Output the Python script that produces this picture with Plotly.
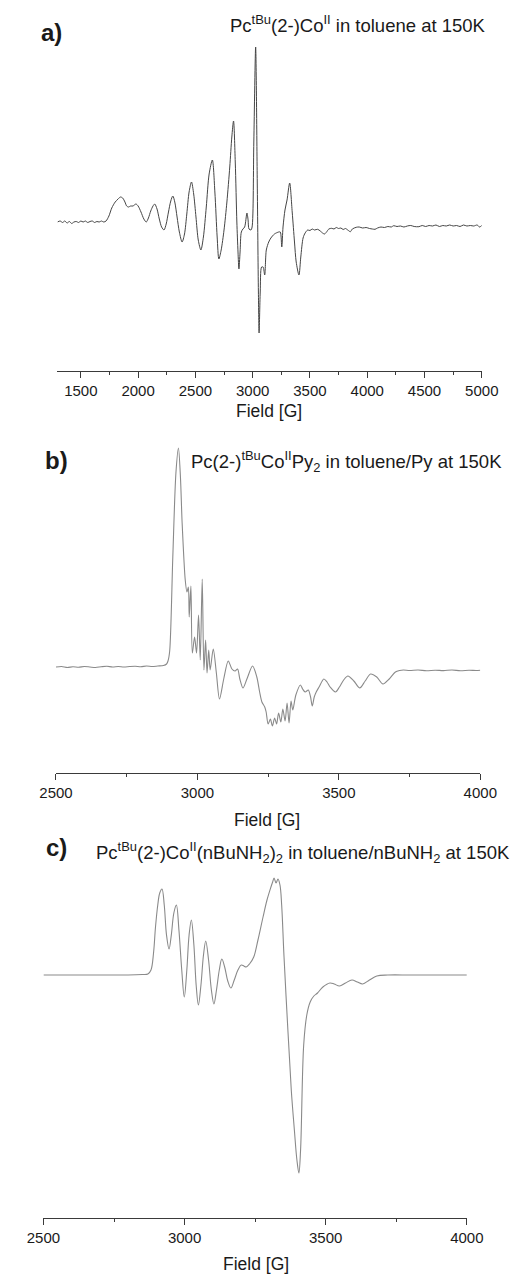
import plotly.graph_objects as go

W, H = 520, 1276

# ---------------- Panel a: Pc(tBu)(2-)Co(II) in toluene, 150 K ----------------
field_a = [1296, 1320, 1340, 1360, 1380, 1400, 1420, 1440, 1460, 1480, 1500, 1520, 1540, 1560,
           1580, 1600, 1620, 1640, 1660, 1680, 1700, 1720, 1745, 1770, 1800, 1825, 1846, 1865,
           1885, 1900, 1916, 1935, 1955, 1981, 2000, 2025, 2050, 2071, 2090, 2110, 2130, 2145,
           2165, 2185, 2205, 2226, 2245, 2265, 2285, 2303, 2320, 2340, 2360, 2384, 2405, 2425,
           2445, 2466, 2485, 2505, 2525, 2548, 2570, 2595, 2620, 2648, 2670, 2690, 2705, 2725,
           2750, 2775, 2800, 2818, 2833, 2848, 2862, 2872, 2880, 2890, 2901, 2915, 2930, 2950,
           2960, 2968, 2985, 2995, 3010, 3026, 3040, 3050, 3056, 3066, 3078, 3091, 3105, 3119,
           3140, 3159, 3190, 3227, 3241, 3254, 3265, 3282, 3300, 3323, 3345, 3365, 3380, 3404,
           3420, 3440, 3458, 3480, 3500, 3520, 3540, 3567, 3590, 3610, 3627, 3645, 3665, 3690,
           3710, 3730, 3750, 3770, 3790, 3810, 3830, 3853, 3870, 3904, 3930, 3960, 3990, 4020,
           4045, 4068, 4090, 4120, 4150, 4180, 4210, 4231, 4260, 4290, 4320, 4350, 4380, 4410,
           4451, 4480, 4510, 4540, 4570, 4600, 4630, 4660, 4690, 4720, 4750, 4780, 4810, 4840,
           4870, 4900, 4930, 4960, 4980, 5000]
int_a = [0, 1, -0.5, 1, -1, 0.5, -1.5, 0, 0.5, -0.5, 1, 0, 1, -0.5,
         0.5, 1, -0.5, 0.5, 0, 1, 0, 1, 6, 14, 20, 23, 25, 24,
         20, 16, 15, 16, 16, 18, 16, 10, 3, 0, 4, 11, 16, 18,
         13, 3, -5, -8, -2, 10, 21, 26, 20, 5, -10, -20, -12, 8,
         30, 40, 28, 5, -18, -28, -15, 15, 48, 62, 30, -15, -37, -28,
         -8, 20, 55, 85, 101, 60, 0, -30, -47, -30, -10, -7, -5, 9,
         2, -7, -8, -5, 80, 175, 40, -70, -111, -70, -45, -45, -53, -28,
         -20, -16, -12, -10, -10, -25, -5, 12, 22, 39, 10, -20, -40, -53,
         -35, -16, -11, -8, -8.5, -7, -8, -7.3, -9, -11, -12, -10, -7, -6.3,
         -7, -5.5, -6.5, -6, -7.5, -6.5, -8, -9.7, -7, -5.3, -5, -6, -5.5, -6.5,
         -7, -7.3, -6, -5, -5.5, -4.5, -5, -3.7, -4.5, -4, -5, -4, -3.5, -4.5,
         -4.7, -3.5, -4.5, -3.5, -4, -3, -4.5, -3.5, -4, -3, -4, -3.5, -4.5, -3,
         -4, -3.5, -4, -3, -5, -3.5]
ticks_a = [1500, 2000, 2500, 3000, 3500, 4000, 4500, 5000]

# ---------------- Panel b: Pc(2-)tBuCo(II)Py2 in toluene/Py, 150 K ----------------
field_b = [2500, 2520, 2540, 2560, 2580, 2600, 2620, 2640, 2660, 2680, 2700, 2720, 2740, 2760,
           2780, 2800, 2820, 2840, 2860, 2880, 2891, 2896, 2902, 2913, 2924, 2933, 2940, 2946,
           2957, 2963, 2968, 2971, 2977, 2982, 2990, 2997, 3004, 3010, 3017, 3023, 3029, 3034,
           3040, 3045, 3056, 3067, 3078, 3093, 3109, 3122, 3133, 3142, 3150, 3161, 3175, 3195,
           3210, 3220, 3228, 3238, 3243, 3250, 3258, 3265, 3273, 3280, 3287, 3295, 3302, 3310,
           3317, 3324, 3331, 3337, 3348, 3364, 3372, 3381, 3392, 3400, 3406, 3413, 3420, 3430,
           3447, 3458, 3469, 3488, 3502, 3517, 3532, 3553, 3574, 3593, 3612, 3634, 3656, 3678,
           3700, 3715, 3728, 3750, 3780, 3810, 3840, 3870, 3900, 3930, 3960, 3985, 4000]
int_b = [0, 0.5, -0.5, 0.3, -0.3, 0.5, 0, -0.5, 0.3, 0.8, 0, 0.5, 0, 0.5,
         0.8, 0.3, 1, 0.5, 1, 1.5, 3, 6, 16, 110, 194, 219, 190, 144,
         87, 75, 80, 50, 81, 14, 30, 14, 52, 7, 88, -3, 27, -6,
         17, -3, 18, -6, -32, -12, 6, -2, -4, -2, -12, -21, -12, 1,
         -10, -25, -35, -40, -45, -57, -52, -59, -51, -57, -46, -55, -42, -54,
         -36, -56, -34, -43, -28, -18, -22, -25, -23, -30, -39, -30, -25, -20,
         -12, -15, -20, -25, -20, -13, -9, -14, -21, -14, -7, -10, -17, -12,
         -5, -3.5, -3, -3.5, -3, -3.8, -3.2, -3.6, -3, -3.8, -3.2, -3.5, -3.3]
ticks_bc = [2500, 3000, 3500, 4000]

# ---------------- Panel c: Pc(tBu)(2-)Co(II)(nBuNH2)2 in toluene/nBuNH2, 150 K ----------------
field_c = [2500, 2600, 2700, 2800, 2850, 2870, 2881, 2890, 2897, 2905, 2912, 2920, 2928, 2936,
           2945, 2953, 2962, 2971, 2980, 2990, 2999, 3008, 3016, 3024, 3033, 3041, 3049, 3058,
           3067, 3075, 3085, 3095, 3104, 3113, 3123, 3132, 3142, 3153, 3164, 3176, 3189, 3201,
           3210, 3218, 3230, 3245, 3260, 3278, 3292, 3306, 3312, 3317, 3324, 3331, 3338, 3344,
           3352, 3366, 3378, 3389, 3398, 3405, 3411, 3422, 3433, 3445, 3458, 3471, 3490, 3515,
           3530, 3549, 3570, 3593, 3612, 3631, 3655, 3681, 3720, 3800, 3900, 4000]
int_c = [0, 0, 0, 0, 0.5, 1, 5, 22, 48, 70, 82, 86, 70, 40,
         26, 40, 62, 70, 45, 5, -22, 5, 40, 55, 30, -10, -30, -10,
         20, 34, 15, -15, -29, -15, 5, 16, 8, -6, -13, -5, 5, 10,
         9, 8, 11, 18, 35, 58, 75, 88, 93, 97, 92, 96, 90, 70,
         20, -55, -115, -155, -185, -198, -175, -70, -40, -27, -21, -18, -12, -8,
         -9, -11, -8, -5, -7, -9, -5, -1, 0, 0, 0, 0]

FONT = "Arial, Liberation Sans, Helvetica, sans-serif"
TXT = "#1a1a1a"
AX = "#3a3a3a"

fig = go.Figure()
fig.add_trace(go.Scatter(x=field_a, y=int_a, xaxis="x", yaxis="y", mode="lines",
                         line=dict(color="#454545", width=1, shape="spline", smoothing=0.8),
                         hoverinfo="skip"))
fig.add_trace(go.Scatter(x=field_b, y=int_b, xaxis="x2", yaxis="y2", mode="lines",
                         line=dict(color="#8a8a8a", width=1.1, shape="spline", smoothing=0.8),
                         hoverinfo="skip"))
fig.add_trace(go.Scatter(x=field_c, y=int_c, xaxis="x3", yaxis="y3", mode="lines",
                         line=dict(color="#8a8a8a", width=1.1, shape="spline", smoothing=1.0),
                         hoverinfo="skip"))


def fx(px):
    return px / W


def fy(py):
    return 1 - py / H


def xaxis_cfg(x0, x1, rng, ticks, anchor):
    return dict(domain=[fx(x0), fx(x1)], range=rng, anchor=anchor,
                showline=True, linecolor=AX, linewidth=1.3, showgrid=False, zeroline=False,
                ticks="outside", ticklen=6, tickwidth=1.3, tickcolor=AX,
                tickmode="array", tickvals=ticks, ticktext=[str(t) for t in ticks],
                tickfont=dict(family=FONT, size=15, color=TXT),
                minor=dict(ticks="outside", ticklen=3, tickwidth=1.2, tickcolor=AX, dtick=250, tick0=2500),
                fixedrange=True)


def yaxis_cfg(top, bottom, rng, anchor):
    return dict(domain=[fy(bottom), fy(top)], range=rng, anchor=anchor, visible=False,
                showgrid=False, zeroline=False, fixedrange=True)


fig.update_layout(
    width=W, height=H, margin=dict(l=0, r=0, t=0, b=0),
    paper_bgcolor="white", plot_bgcolor="white", showlegend=False,
    xaxis=xaxis_cfg(43.3, 497.3, [1296, 5000], ticks_a, "y"),
    yaxis=yaxis_cfg(40, 371, [-149, 182], "x"),
    xaxis2=xaxis_cfg(41.7, 495.7, [2500, 4000], ticks_bc, "y2"),
    yaxis2=yaxis_cfg(440, 773, [-106, 227], "x2"),
    xaxis3=xaxis_cfg(28.3, 481.3, [2500, 4000], ticks_bc, "y3"),
    yaxis3=yaxis_cfg(860, 1218, [-243, 115], "x3"),
)

annots = [
    # panel letters
    dict(text="<b>a)</b>", x=fx(24), y=fy(33), xanchor="left", size=24),
    dict(text="<b>b)</b>", x=fx(28), y=fy(460), xanchor="left", size=24),
    dict(text="<b>c)</b>", x=fx(29), y=fy(847), xanchor="left", size=24),
    # titles
    dict(text="Pc<sup>tBu</sup>(2-)Co<sup>II</sup> in toluene at 150K",
         x=fx(226), y=fy(24), xanchor="left", size=18.5),
    dict(text="Pc(2-)<sup>tBu</sup>Co<sup>II</sup>Py<sub>2</sub> in toluene/Py at 150K",
         x=fx(184), y=fy(462), xanchor="left", size=18.5),
    dict(text="Pc<sup>tBu</sup>(2-)Co<sup>II</sup>(nBuNH<sub>2</sub>)<sub>2</sub> in toluene/nBuNH<sub>2</sub> at 150K",
         x=fx(82), y=fy(852), xanchor="left", size=18.5),
    # axis titles
    dict(text="Field [G]", x=fx(270), y=fy(411), xanchor="center", size=17.5),
    dict(text="Field [G]", x=fx(268), y=fy(820), xanchor="center", size=17.5),
    dict(text="Field [G]", x=fx(256), y=fy(1264), xanchor="center", size=17.5),
]
for a in annots:
    fig.add_annotation(text=a["text"], x=a["x"], y=a["y"], xref="paper", yref="paper",
                       xanchor=a["xanchor"], yanchor="middle", showarrow=False,
                       font=dict(family=FONT, size=a["size"], color=TXT))

fig.write_html("out.html")
